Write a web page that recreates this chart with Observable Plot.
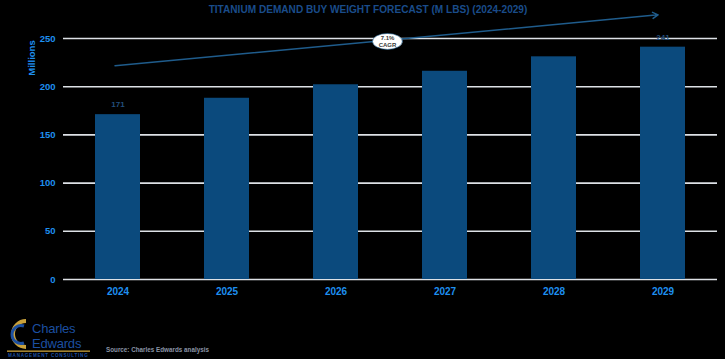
<!DOCTYPE html>
<html>
<head>
<meta charset="utf-8">
<script src="https://cdn.jsdelivr.net/npm/d3@7"></script>
<script src="https://cdn.jsdelivr.net/npm/@observablehq/plot@0.6"></script>
<style>
  html, body { margin: 0; padding: 0; background: #000; }
  #wrap { position: relative; width: 725px; height: 359px; background: #000; overflow: hidden;
          font-family: "Liberation Sans", Arial, sans-serif; }
  #chart { position: absolute; left: 0; top: 0; }
  #chart svg text { font-weight: bold; }
  #title { position: absolute; top: 4px; left: 0; width: 736px; text-align: center;
           font-weight: bold; font-size: 10.1px; color: #1a4c8a; }
  #ylab { position: absolute; left: 31px; top: 58px; transform: translate(-50%, -50%) rotate(-90deg);
          font-weight: bold; font-size: 9.5px; color: #1e8fef; white-space: nowrap; }
  #source { position: absolute; left: 106px; top: 346px; font-weight: bold; font-size: 6.3px; color: #8a94a6; white-space: nowrap; }
  #logo { position: absolute; left: 0; top: 310px; }
</style>
</head>
<body>
<div id="wrap">
  <div id="chart"></div>
  <div id="title"></div>
  <div id="ylab"></div>
  <div id="source"></div>
  <svg id="logo" width="100" height="49" viewBox="0 0 100 49">
    <path d="M26 11 A13 13 0 1 0 26 37" fill="none" stroke="#c9a13b" stroke-width="4"/>
    <path d="M24 16 A9 9 0 1 0 24 33" fill="none" stroke="#1c4fa0" stroke-width="3"/>
    <text x="32" y="23" font-family="Liberation Sans, Arial, sans-serif" font-size="13" fill="#1c4fa0" letter-spacing="-0.2">Charles</text>
    <text x="32" y="38" font-family="Liberation Sans, Arial, sans-serif" font-size="13" fill="#1c4fa0" letter-spacing="-0.2">Edwards</text>
    <rect x="7" y="40.5" width="83" height="1.3" fill="#c9a13b"/>
    <text x="8" y="47" font-family="Liberation Sans, Arial, sans-serif" font-size="4.6" font-weight="bold" fill="#1c4fa0" letter-spacing="0.75">MANAGEMENT  CONSULTING</text>
  </svg>
</div>
<script>
// ---- data ----
const years = ["2024", "2025", "2026", "2027", "2028", "2029"];
const demand = [171, 188, 202, 216, 231, 241];
const yTicks = [0, 50, 100, 150, 200, 250];
const labeledYears = ["2024", "2029"];
const cagrYears = ["2024", "2029"];
const cagrValues = [222, 275];
const cagrLabel = ["7.1%", "CAGR"];
const titleText = "TITANIUM DEMAND BUY WEIGHT FORECAST (M LBS) (2024-2029)";
const yLabelText = "Millions";
const sourceText = "Source:  Charles Edwards analysis";

// ---- tables ----
const data = years.map((year, i) => ({year, value: demand[i]}));
const labels = data.filter(d => labeledYears.includes(d.year));
const cagr = [{x1: cagrYears[0], y1: cagrValues[0], x2: cagrYears[1], y2: cagrValues[1]}];

document.getElementById("title").textContent = titleText;
document.getElementById("ylab").textContent = yLabelText;
document.getElementById("source").textContent = sourceText;

const chart = Plot.plot({
  width: 725,
  height: 305,
  marginTop: 38,
  marginBottom: 26,
  marginLeft: 63,
  marginRight: 8,
  style: {background: "transparent", fontFamily: "Liberation Sans, Arial, sans-serif", overflow: "visible"},
  x: {domain: years, paddingInner: 0.587, paddingOuter: 0.2935, label: null},
  y: {domain: [0, 250], label: null},
  marks: [
    Plot.ruleY(yTicks, {stroke: "#dde1e6", strokeWidth: 1.6}),
    Plot.barY(data, {x: "year", y: "value", fill: "#0b4a7d"}),
    Plot.axisX({tickSize: 0, tickPadding: 8, fontSize: 10, color: "#1e8fef", label: null}),
    Plot.axisY({ticks: yTicks, tickSize: 0, tickPadding: 8, fontSize: 9.5, color: "#1e8fef", label: null}),
    Plot.text(labels, {x: "year", y: "value", text: d => String(d.value), dy: -10, fill: "#234f7d", fontSize: 8}),
    Plot.arrow(cagr, {
      x1: "x1", y1: "y1", x2: "x2", y2: "y2",
      stroke: "#1f5c8c", strokeWidth: 1.5, headLength: 6, insetStart: -3, insetEnd: 5,
      render(index, scales, values, dimensions, context, next) {
        const g = next(index, scales, values, dimensions, context);
        const i = index[0];
        const cx = (values.x1[i] + values.x2[i]) / 2 - 3;
        const cy = (values.y1[i] + values.y2[i]) / 2 + 1.5;
        const sel = d3.select(g);
        sel.append("ellipse").attr("cx", cx).attr("cy", cy).attr("rx", 15).attr("ry", 8)
          .attr("fill", "#ffffff").attr("stroke", "#1f5c8c").attr("stroke-width", 0.6);
        const t = sel.append("text").attr("text-anchor", "middle").attr("font-size", 6)
          .attr("fill", "#3a3a3a").attr("stroke", "none").attr("font-weight", "normal");
        cagrLabel.forEach((s, k) => t.append("tspan").attr("x", cx).attr("y", cy - 1 + k * 6.5).text(s));
        return g;
      }
    })
  ]
});
document.getElementById("chart").appendChild(chart);
</script>
</body>
</html>
